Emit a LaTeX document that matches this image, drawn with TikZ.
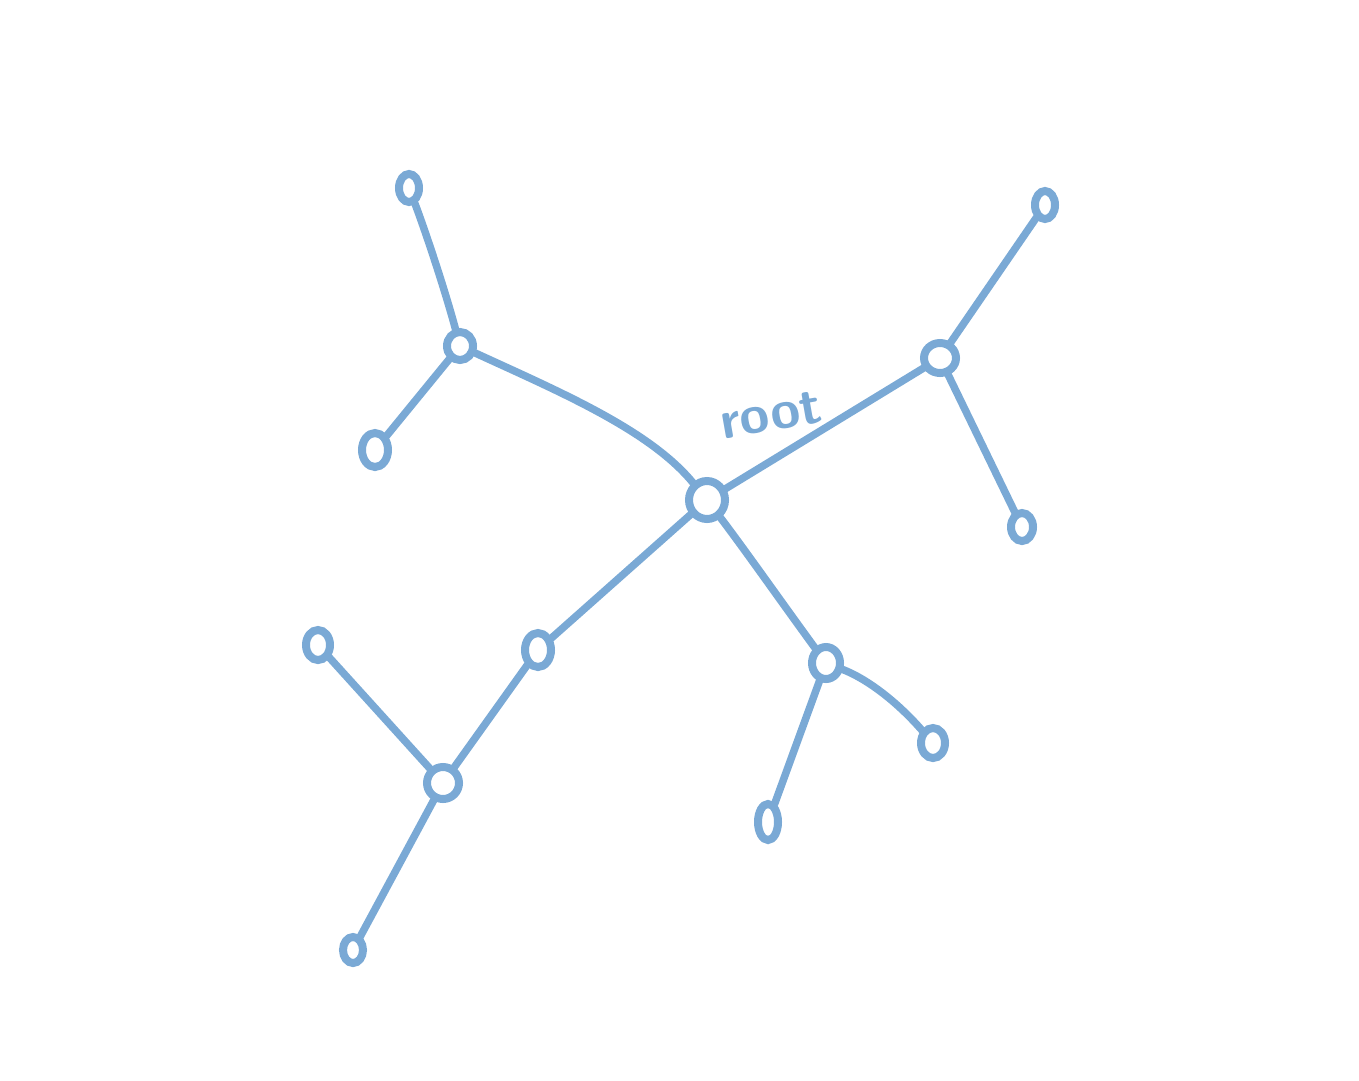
\documentclass[tikz,border=0pt]{standalone}
\usetikzlibrary{shapes.geometric}
\definecolor{pen}{RGB}{122,169,213}
\begin{document}
\begin{tikzpicture}[x=1pt,y=-1pt,
  dot/.style={draw=pen, line width=8pt, ellipse, inner sep=0pt, outer sep=3pt},
  edge/.style={draw=pen, line width=7.5pt, line cap=round}]
\useasboundingbox (0,0) rectangle (1359,1080);
\node[dot, minimum width=36, minimum height=38] (root) at (707,500) {};
\node[dot, minimum width=26, minimum height=28] (A) at (460,346) {};
\node[dot, minimum width=20, minimum height=28] (A1) at (409,188) {};
\node[dot, minimum width=26, minimum height=34] (A2) at (375,450) {};
\node[dot, minimum width=32, minimum height=30] (B) at (940,358) {};
\node[dot, minimum width=20, minimum height=28] (B1) at (1045,205) {};
\node[dot, minimum width=22, minimum height=28] (B2) at (1022,527) {};
\node[dot, minimum width=26, minimum height=34] (C) at (538,650) {};
\node[dot, minimum width=32, minimum height=32] (C1) at (443,783) {};
\node[dot, minimum width=24, minimum height=30] (C1a) at (318,645) {};
\node[dot, minimum width=20, minimum height=26] (C1b) at (353,950) {};
\node[dot, minimum width=28, minimum height=32] (D) at (826,663) {};
\node[dot, minimum width=24, minimum height=30] (D1) at (933,743) {};
\node[dot, minimum width=20, minimum height=36] (D2) at (768,822) {};
\node[text=pen, font=\sffamily\bfseries\fontsize{54}{54}\selectfont, rotate=10] (lbl) at (771,415) {root};
\draw[edge] (A) .. controls (560,392) and (650,430) .. (root);
\draw[edge] (root) -- (B);
\draw[edge] (root) -- (C);
\draw[edge] (root) .. controls (745,550) and (780,600) .. (D);
\draw[edge] (A) .. controls (445,290) and (425,230) .. (A1);
\draw[edge] (A) -- (A2);
\draw[edge] (B) -- (B1);
\draw[edge] (B) -- (B2);
\draw[edge] (C) -- (C1);
\draw[edge] (C1) -- (C1a);
\draw[edge] (C1) -- (C1b);
\draw[edge] (D) .. controls (870,680) and (900,705) .. (D1);
\draw[edge] (D) -- (D2);
\end{tikzpicture}
\end{document}
